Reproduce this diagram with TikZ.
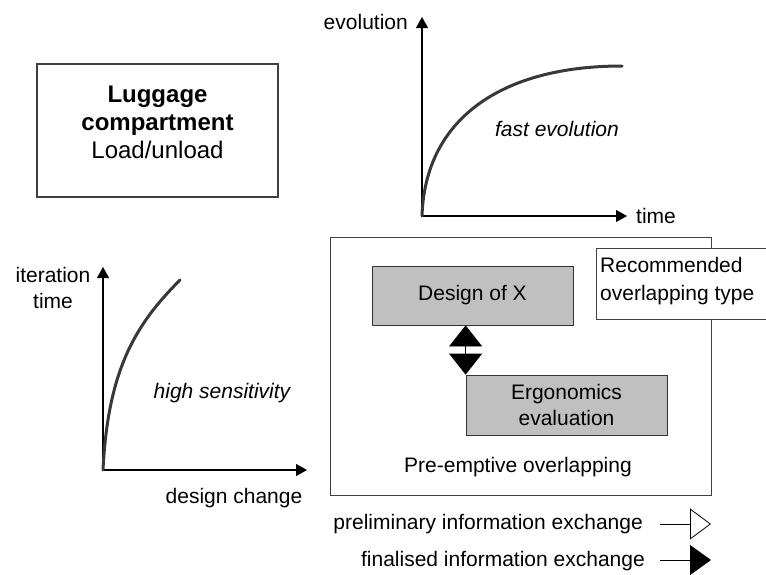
\documentclass[tikz,border=0pt]{standalone}
\usepackage{fontspec}
\setmainfont{Liberation Sans}
\usetikzlibrary{arrows.meta}
\definecolor{curvegray}{HTML}{383838}
\definecolor{boxgray}{HTML}{C0C0C0}
\definecolor{framegray}{HTML}{404040}
\tikzset{
  txt/.style={font=\fontsize{21}{26}\selectfont, inner sep=0pt, align=center},
  bigtxt/.style={font=\fontsize{24}{28}\selectfont, inner sep=0pt, anchor=base},
  axis/.style={line width=1.2pt, -{Triangle[width=12pt,length=11pt]}},
  curve/.style={line width=3pt, curvegray, line cap=round},
  taskbox/.style={draw=black!80, line width=0.8pt, fill=boxgray, txt},
  plainbox/.style={draw=black!75, line width=0.8pt, fill=white, txt},
}
\begin{document}
\begin{tikzpicture}[x=1pt,y=-1pt]
\useasboundingbox (0,0) rectangle (766,574);

% component box
\node[draw=framegray, line width=2pt, minimum width=241pt, minimum height=133pt]
  (lug) at (157.5,130.5) {};
\node[bigtxt, font=\fontsize{24}{28}\selectfont\bfseries] (lug1) at (157.5,102) {Luggage};
\node[bigtxt, font=\fontsize{24}{28}\selectfont\bfseries] (lug2) at (157.5,130) {compartment};
\node[bigtxt] (lug3) at (157.5,158) {Load/unload};

% evolution graph
\coordinate (eo) at (422,216);
\coordinate (ey) at (422,17);
\coordinate (ex) at (627,216);
\draw[axis] (eo) -- (ey);
\draw[axis] (eo) -- (ex);
\node[txt, anchor=east] (evl) at (408,22) {evolution};
\node[txt, anchor=west] (etl) at (636,216) {time};
\draw[curve] (eo) .. controls (425,120) and (500,66) .. (622,66);
\node[txt, font=\fontsize{21}{26}\selectfont\itshape] (fast) at (557,129) {fast evolution};

% sensitivity graph
\coordinate (so) at (103,470);
\coordinate (sy) at (103,267);
\coordinate (sx) at (307,470);
\draw[axis] (so) -- (sy);
\draw[axis] (so) -- (sx);
\node[txt] (itl) at (53,288) {iteration\\time};
\node[txt] (dcl) at (234,498) {design change};
\draw[curve] (so) .. controls (108,370) and (135,325) .. (180,280);
\node[txt, font=\fontsize{21}{26}\selectfont\itshape] (hs) at (222,393) {high sensitivity};

% overlapping panel
\node[plainbox, minimum width=381pt, minimum height=258pt] (panel) at (520.5,366) {};
\node[plainbox, minimum width=170pt, minimum height=71pt] (rec) at (681,283.5) {};
\node[txt, anchor=base west] (rec1) at (600,272) {Recommended};
\node[txt, anchor=base west] (rec2) at (600,300) {overlapping type};
\node[taskbox, minimum width=201pt, minimum height=59pt] (dx) at (472.5,295.5) {Design of X};
\node[taskbox, minimum width=201pt, minimum height=60pt] (ergo) at (566.5,405)
  {Ergonomics\\evaluation};
\draw[line width=0.8pt, {Triangle[width=33pt,length=21pt]}-{Triangle[width=33pt,length=21pt]}]
  (dx.south -| ergo.north west) -- (ergo.north west);
\node[txt] (pre) at (518,467) {Pre-emptive overlapping};

% legend
\node[txt, anchor=east] (prel) at (643,524) {preliminary information exchange};
\node[txt, anchor=east] (fin) at (645,561) {finalised information exchange};
\coordinate (p0) at (660,524);
\coordinate (p1) at (711,524);
\coordinate (f0) at (660,560);
\coordinate (f1) at (711,560);
\draw[line width=0.8pt, -{Triangle[open, width=31pt, length=21pt]}] (p0) -- (p1);
\draw[line width=0.8pt, -{Triangle[width=30pt, length=21pt]}] (f0) -- (f1);
\end{tikzpicture}
\end{document}
